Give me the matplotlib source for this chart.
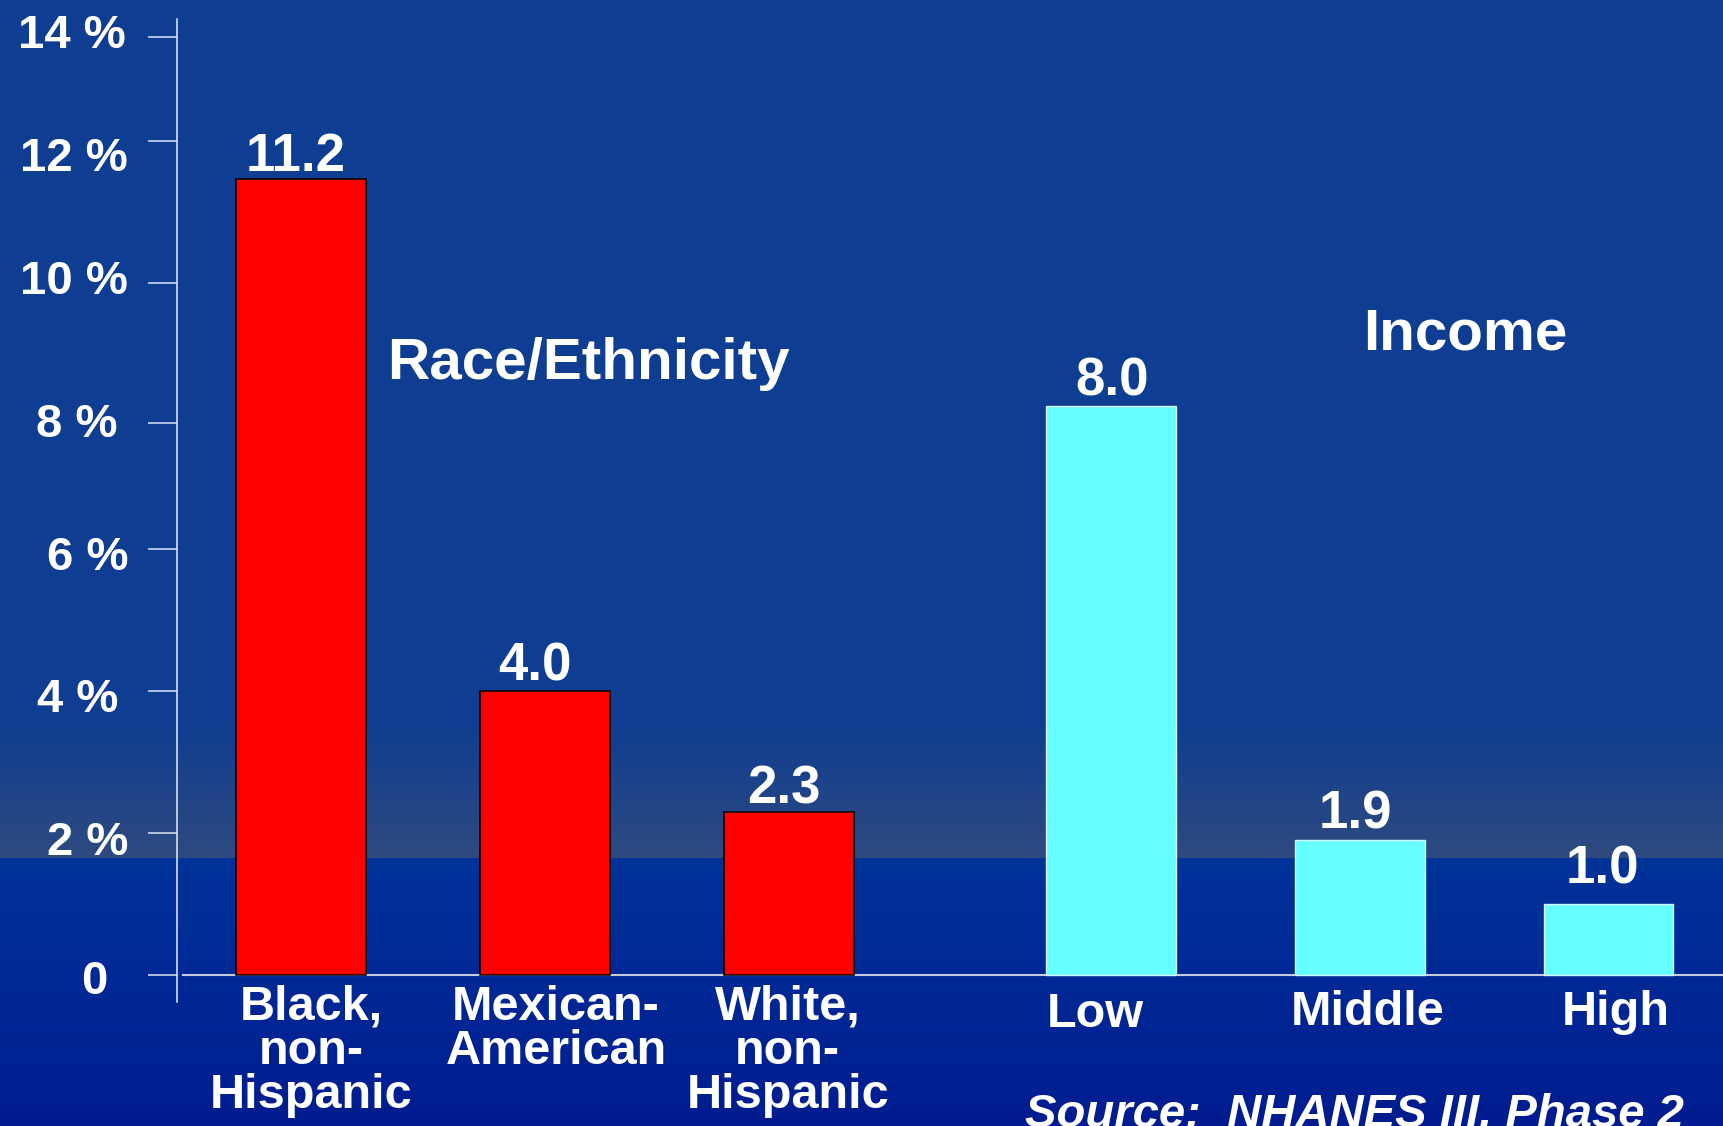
import numpy as np
import matplotlib
matplotlib.use("Agg")
import matplotlib.pyplot as plt
import matplotlib.transforms as mtransforms
from matplotlib.colors import to_rgb

plt.rcParams['font.family'] = ['Liberation Sans', 'DejaVu Sans']
plt.rcParams['font.weight'] = 'bold'

# ---- data ----
race_labels = ["Black,\nnon-\nHispanic", "Mexican-\nAmerican", "White,\nnon-\nHispanic"]
race_values = [11.2, 4.0, 2.3]
race_text = ["11.2", "4.0", "2.3"]

income_labels = ["Low", "Middle", "High"]
income_values = [8.0, 1.9, 1.0]
income_text = ["8.0", "1.9", "1.0"]

# the slide's tick labels are not evenly spaced against the bars
ytick_values = [0, 2, 4, 6, 7.76, 9.74, 11.73, 13.2]
ytick_labels = ["0", "2 %", "4 %", "6 %", "8 %", "10 %", "12 %", "14 %"]

# ---- layout ----
x_race = [0, 1, 2]
x_income = [3.32, 4.34, 5.36]
bar_w = 0.532
cat_dx = [7, 8, -1, -11, 6, 5.5]      # points, label nudges as on slide
cat_dy = [-7, -7, -7, -12, -11, -11]
val_dx = [-4, -7, -4, 1, -3.5, -4.5]
val_dy = [6, 7.5, 6, 7.5, 8.5, 14.5]
ytick_dx = [-15.8, -0.8, -7.9, -0.8, -8.7, -1.6, -1.6, -3.2]
ytick_dy = [-1.6, -4, -3.2, -3.2, 2.4, 4, -9.5, 4]

fig = plt.figure(figsize=(17.23, 11.26), dpi=100)

# background gradient
H = 1126
top = np.array(to_rgb('#0f3d91'))
gray = np.array(to_rgb('#2f4a7f'))
low_top = np.array(to_rgb('#003399'))
low_bot = np.array(to_rgb('#001c90'))
rows = np.zeros((H, 3))
for i in range(H):
    if i < 720:
        rows[i] = top
    elif i < 858:
        t = (i - 720) / 138
        rows[i] = top * (1 - t) + gray * t
    else:
        t = (i - 858) / (H - 858)
        rows[i] = low_top * (1 - t) + low_bot * t
bg = fig.add_axes([0, 0, 1, 1], zorder=-10)
bg.imshow(rows[:, None, :], aspect='auto', extent=[0, 1, 0, 1])
bg.axis('off')

ax = fig.add_axes([0.1027, 0.1101, 0.8973, 0.873])
ax.set_facecolor('none')
ax.set_xlim(-0.509, 5.829)
ax.set_ylim(-0.38, 13.45)

for s in ['top', 'right', 'bottom']:
    ax.spines[s].set_visible(False)
ax.spines['left'].set_color('#e6ebf5')
ax.spines['left'].set_linewidth(1.1)

ax.set_yticks(ytick_values)
ax.set_yticklabels(ytick_labels)
ax.tick_params(axis='y', direction='out', length=21, width=1.1, color='#dde3ee',
               pad=13, labelsize=34, labelcolor='white')
ax.tick_params(axis='x', bottom=False, labelbottom=False)
for lab, dx, dy in zip(ax.get_yticklabels(), ytick_dx, ytick_dy):
    lab.set_transform(lab.get_transform() +
                      mtransforms.ScaledTranslation(dx / 72, dy / 72, fig.dpi_scale_trans))

ax.axhline(0, xmin=0.004, color='#c4cbe0', lw=1.5, zorder=1)

ax.bar(x_race, race_values, width=bar_w, color='#ff0000', edgecolor='black',
       linewidth=1.1, zorder=3)
ax.bar(x_income, income_values, width=bar_w, color='#66ffff', edgecolor='#d8f4ff',
       linewidth=1.0, zorder=3)

xs = x_race + x_income
vals = race_values + income_values
texts = race_text + income_text
labels = race_labels + income_labels
for i in range(len(xs)):
    ax.annotate(texts[i], (xs[i], vals[i]), xytext=(val_dx[i], val_dy[i]),
                textcoords='offset points', ha='center', va='baseline',
                fontsize=38, color='white', fontweight='bold')
    ax.annotate(labels[i], (xs[i], 0), xytext=(cat_dx[i], cat_dy[i]),
                textcoords='offset points', ha='center', va='top',
                fontsize=35, linespacing=0.97, color='white', fontweight='bold',
                annotation_clip=False)

fig.text(0.2246, 0.6634, "Race/Ethnicity", fontsize=42, color='white',
         fontweight='bold', va='baseline')
fig.text(0.791, 0.6896, "Income", fontsize=42, color='white',
         fontweight='bold', va='baseline')
fig.text(0.595, -0.001, "Source:  NHANES III, Phase 2", fontsize=34, color='white',
         fontweight='bold', style='italic', va='baseline')

fig.savefig('out.png', dpi=100)
